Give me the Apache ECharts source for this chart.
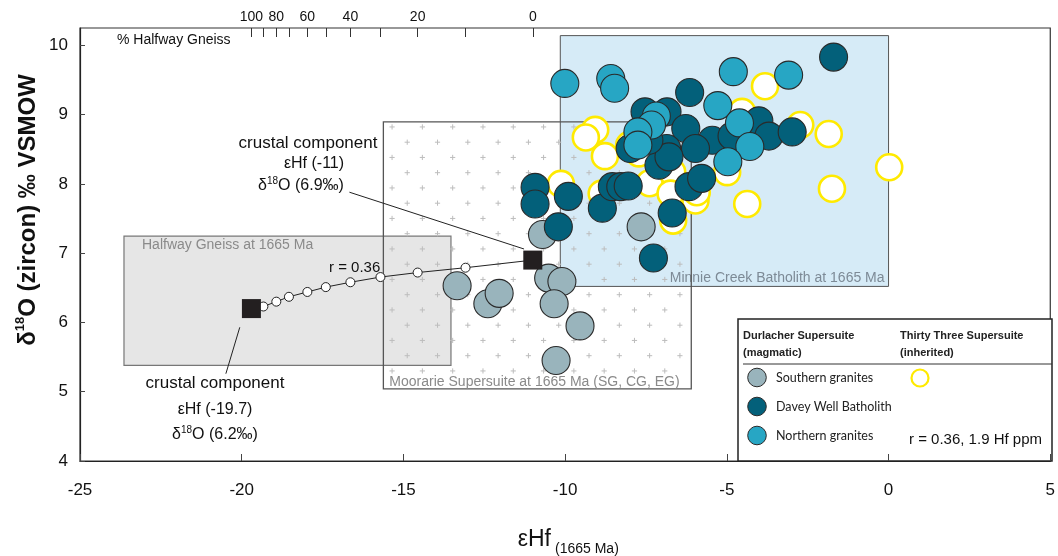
<!DOCTYPE html>
<html>
<head>
<meta charset="utf-8">
<script src="https://cdn.jsdelivr.net/npm/echarts@6/dist/echarts.min.js"></script>
<style>
  html, body { margin: 0; padding: 0; background: #fff; }
  #chart { width: 1058px; height: 556px; }
</style>
</head>
<body>
<div id="chart"></div>
<script>
// ---- zircon δ18O vs εHf(1665 Ma) ----
const southernGranites = [
  [-13.34, 6.53], [-12.39, 6.27], [-12.04, 6.42], [-10.70, 7.27], [-10.51, 6.64],
  [-10.10, 6.59], [-10.34, 6.27], [-9.54, 5.95], [-10.28, 5.45], [-7.65, 7.38]
];
const daveyWell = [
  [-1.70, 9.83], [-6.15, 9.32], [-7.53, 9.04], [-6.85, 9.04], [-6.27, 8.80],
  [-5.45, 8.63], [-4.84, 8.69], [-4.01, 8.91], [-3.70, 8.69], [-2.98, 8.75],
  [-7.99, 8.51], [-6.86, 8.51], [-5.97, 8.51], [-7.10, 8.27], [-6.79, 8.39],
  [-10.93, 7.95], [-10.93, 7.71], [-9.90, 7.82], [-10.21, 7.38], [-8.85, 7.65],
  [-8.54, 7.96], [-8.28, 7.96], [-8.05, 7.97], [-6.17, 7.96], [-5.78, 8.08],
  [-6.69, 7.58], [-7.27, 6.93], [-7.41, 8.63]
];
const northernGranites = [
  [-10.01, 9.45], [-8.59, 9.52], [-8.47, 9.38], [-4.80, 9.62], [-3.09, 9.57],
  [-5.28, 9.13], [-7.18, 8.98], [-7.33, 8.85], [-7.75, 8.75], [-7.75, 8.56],
  [-4.61, 8.88], [-4.29, 8.54], [-4.97, 8.32]
];
const thirtyThreeInherited = [
  [-3.82, 9.41], [-9.07, 8.78], [-9.36, 8.67], [-8.77, 8.40], [-4.53, 9.04],
  [-2.73, 8.85], [-1.85, 8.72], [0.02, 8.24], [-1.75, 7.93], [-4.37, 7.71],
  [-10.13, 8.00], [-8.87, 7.86], [-7.39, 8.01], [-6.69, 8.17], [-6.74, 7.86],
  [-5.97, 7.76], [-6.66, 7.47], [-4.99, 8.17], [-7.72, 8.44], [-8.02, 8.56],
  [-5.93, 7.88]
];

// binary mixing curve between the two crustal components (r = 0.36)
const mixingPct = [100, 90, 80, 70, 60, 50, 40, 30, 20, 10, 0];
const mixingHf = [-19.7, -19.33, -18.93, -18.54, -17.97, -17.40, -16.64, -15.71, -14.56, -13.08, -11.0];
const mixingO = [6.2, 6.23, 6.30, 6.37, 6.44, 6.51, 6.58, 6.655, 6.72, 6.79, 6.9];
const gneissLabelPct = [100, 80, 60, 40, 20, 0];
const endMembers = [[-19.7, 6.2], [-11.0, 6.9]];
const leaderLines = [
  [[-16.67, 7.88], [-11.27, 7.06]],
  [[-20.06, 5.93], [-20.49, 5.26]]
];

// reference fields at 1665 Ma: [εHf min, max], [δ18O min, max]
const boxNames = ['Minnie Creek Batholith at 1665 Ma', 'Halfway Gneiss at 1665 Ma', 'Moorarie Supersuite at 1665 Ma (SG, CG, EG)'];
const boxHf = [[-10.15, 0.0], [-23.64, -13.53], [-15.62, -6.10]];
const boxO = [[6.52, 10.14], [5.38, 7.245], [5.04, 8.894]];

const xTicks = [-25, -20, -15, -10, -5, 0, 5];
const yTicks = [4, 5, 6, 7, 8, 9, 10];

const boxStyles = [
  { fill: '#d6ebf7', stroke: '#555', lw: 1, plus: false, label: 'br', color: '#7d8a96' },
  { fill: '#e6e6e6', stroke: '#777', lw: 1.2, plus: false, label: 'tl', color: '#8a8a8a' },
  { fill: 'rgba(0,0,0,0)', stroke: '#555', lw: 1.3, plus: true, label: 'bl', color: '#8a8a8a' }
];

const SANS = '"Liberation Sans", Arial, sans-serif';
const NARROW = '"Liberation Sans Narrow", "Liberation Sans", Arial, sans-serif';

const chart = echarts.init(document.getElementById('chart'), null, { renderer: 'canvas' });

function pctForHf(v) {
  let best = 0;
  for (let i = 1; i < mixingHf.length; i++) {
    if (Math.abs(mixingHf[i] - v) < Math.abs(mixingHf[best] - v)) best = i;
  }
  return String(mixingPct[best]);
}

function renderBox(params, api) {
  const i = params.dataIndex;
  const st = boxStyles[i];
  const tl = api.coord([boxHf[i][0], boxO[i][1]]);
  const br = api.coord([boxHf[i][1], boxO[i][0]]);
  const w = br[0] - tl[0];
  const h = br[1] - tl[1];
  const children = [{
    type: 'rect',
    shape: { x: tl[0], y: tl[1], width: w, height: h },
    style: { fill: st.fill, stroke: null }
  }];
  if (st.plus) {
    let d = '';
    const dx = 30.3, dy = 15.25, a = 2.6;
    for (let r = 0; 5 + r * dy < h - 3; r++) {
      const y = tl[1] + 5 + r * dy;
      for (let x = tl[0] + 8.7 + (r % 2) * dx / 2; x < br[0] - 3; x += dx) {
        d += 'M' + (x - a) + ' ' + y + 'L' + (x + a) + ' ' + y +
             'M' + x + ' ' + (y - a) + 'L' + x + ' ' + (y + a);
      }
    }
    children.push({ type: 'path', shape: { pathData: d }, style: { fill: null, stroke: '#bdbdbd', lineWidth: 1 } });
  }
  children.push({
    type: 'rect',
    shape: { x: tl[0], y: tl[1], width: w, height: h },
    style: { fill: null, stroke: st.stroke, lineWidth: st.lw }
  });
  let tx, ty, align;
  if (st.label === 'tl') { tx = tl[0] + 18; ty = tl[1] + 9; align = 'left'; }
  else if (st.label === 'bl') { tx = tl[0] + 6; ty = br[1] - 7; align = 'left'; }
  else { tx = br[0] - 4; ty = br[1] - 8; align = 'right'; }
  children.push({
    type: 'text',
    style: { text: boxNames[i], x: tx, y: ty, align: align, verticalAlign: 'middle',
             fill: st.color, font: '14px ' + SANS }
  });
  return { type: 'group', children: children };
}

const dotBase = { type: 'scatter', symbol: 'circle', symbolSize: 28, silent: true };

// hide the curve's own markers where the end-member squares sit
const mixingData = mixingHf.map((x, i) => {
  const item = { value: [x, mixingO[i]] };
  if (i === 0 || i === mixingHf.length - 1) item.symbol = 'none';
  return item;
});

const option = {
  animation: false,
  backgroundColor: '#fff',
  grid: { left: 80, right: 6, top: 28, bottom: 95, show: true, borderColor: '#333', borderWidth: 1.2, backgroundColor: 'transparent' },
  xAxis: [{
    type: 'value', min: -25, max: 5, interval: 5, position: 'bottom',
    axisLine: { show: true, onZero: false, lineStyle: { color: '#222', width: 1.2 } },
    axisTick: { show: true, inside: true, length: 7, customValues: xTicks, lineStyle: { color: '#444' } },
    axisLabel: { customValues: xTicks, margin: 21, fontSize: 17, color: '#111', fontFamily: NARROW },
    splitLine: { show: false }
  }, {
    type: 'value', min: -25, max: 5, position: 'top',
    axisLine: { show: false },
    axisTick: { show: true, inside: true, length: 9, customValues: mixingHf, lineStyle: { color: '#333' } },
    axisLabel: {
      customValues: gneissLabelPct.map(p => mixingHf[mixingPct.indexOf(p)]),
      formatter: v => pctForHf(v), margin: 4, fontSize: 14, color: '#111', fontFamily: SANS
    },
    splitLine: { show: false }
  }],
  yAxis: {
    type: 'value', min: 4, max: 10.25, interval: 1,
    axisLine: { show: true, onZero: false, lineStyle: { color: '#222', width: 1.2 } },
    axisTick: { show: true, inside: true, length: 5, customValues: yTicks, lineStyle: { color: '#444' } },
    axisLabel: { customValues: yTicks, margin: 12, fontSize: 17, color: '#111', fontFamily: SANS },
    splitLine: { show: false }
  },
  series: [
    {
      type: 'custom', name: 'fields', coordinateSystem: 'cartesian2d', renderItem: renderBox,
      data: boxNames.map((n, i) => [boxHf[i][0], boxO[i][0], i]), z: 1, silent: true, clip: false
    },
    Object.assign({}, dotBase, {
      name: 'Thirty Three Supersuite (inherited)', data: thirtyThreeInherited, z: 3, symbolSize: 26,
      itemStyle: { color: '#fff', borderColor: '#ffea00', borderWidth: 2.6, opacity: 1 }
    }),
    Object.assign({}, dotBase, {
      name: 'Southern granites', data: southernGranites, z: 4,
      itemStyle: { color: '#99b4bc', borderColor: '#2a2a2a', borderWidth: 1.1, opacity: 1 }
    }),
    Object.assign({}, dotBase, {
      name: 'Davey Well Batholith', data: daveyWell, z: 5,
      itemStyle: { color: '#03607a', borderColor: '#2a2a2a', borderWidth: 1.1, opacity: 1 }
    }),
    Object.assign({}, dotBase, {
      name: 'Northern granites', data: northernGranites, z: 6,
      itemStyle: { color: '#27a6c4', borderColor: '#2a2a2a', borderWidth: 1.1, opacity: 1 }
    }),
    {
      type: 'line', name: 'mixing', data: mixingData, z: 7, silent: true,
      symbol: 'circle', symbolSize: 9, showAllSymbol: true,
      lineStyle: { color: '#222', width: 1 },
      itemStyle: { color: '#fff', borderColor: '#222', borderWidth: 1, opacity: 1 }
    },
    {
      type: 'scatter', name: 'crustal component', data: endMembers, z: 8, silent: true,
      symbol: 'rect', symbolSize: 19, itemStyle: { color: '#231f20', opacity: 1 },
      markLine: {
        silent: true, symbol: ['none', 'none'], label: { show: false },
        lineStyle: { color: '#222', width: 1, type: 'solid' },
        data: leaderLines.map(l => [{ coord: l[0] }, { coord: l[1] }])
      }
    }
  ],
  graphic: [
    // axis titles
    {
      type: 'text', x: 28, y: 210, rotation: Math.PI / 2, z: 10,
      style: {
        text: '{b|δ}{s|18}{b|O (zircon) ‰ VSMOW}', align: 'center', verticalAlign: 'middle',
        rich: {
          b: { font: 'bold 24px ' + SANS, fill: '#111', lineHeight: 28 },
          s: { font: 'bold 13px ' + SANS, fill: '#111', lineHeight: 13, verticalAlign: 'top' }
        }
      }
    },
    { type: 'text', x: 551, y: 540, z: 10,
      style: { text: 'εHf', align: 'right', verticalAlign: 'middle', font: '23px ' + NARROW, fill: '#111' } },
    { type: 'text', x: 555, y: 549, z: 10,
      style: { text: '(1665 Ma)', align: 'left', verticalAlign: 'middle', font: '14px ' + NARROW, fill: '#111' } },
    { type: 'text', x: 117, y: 40, z: 10,
      style: { text: '% Halfway Gneiss', align: 'left', verticalAlign: 'middle', font: '14px ' + SANS, fill: '#111' } },
    { type: 'text', x: 329, y: 268, z: 10,
      style: { text: 'r = 0.36', align: 'left', verticalAlign: 'middle', font: '15px ' + SANS, fill: '#111' } },
    // end-member annotations
    { type: 'text', x: 308, y: 143, z: 10,
      style: { text: 'crustal component', align: 'center', verticalAlign: 'middle', font: '17px ' + SANS, fill: '#111' } },
    { type: 'text', x: 314, y: 164, z: 10,
      style: { text: 'εHf (-11)', align: 'center', verticalAlign: 'middle', font: '16px ' + SANS, fill: '#111' } },
    { type: 'text', x: 301, y: 186, z: 10,
      style: {
        text: '{t|δ}{s|18}{t|O (6.9‰)}', align: 'center', verticalAlign: 'middle',
        rich: { t: { font: '16px ' + SANS, fill: '#111', lineHeight: 20 }, s: { font: '10px ' + SANS, fill: '#111', lineHeight: 10, verticalAlign: 'top' } }
      } },
    { type: 'text', x: 215, y: 383, z: 10,
      style: { text: 'crustal component', align: 'center', verticalAlign: 'middle', font: '17px ' + SANS, fill: '#111' } },
    { type: 'text', x: 215, y: 410, z: 10,
      style: { text: 'εHf (-19.7)', align: 'center', verticalAlign: 'middle', font: '16px ' + SANS, fill: '#111' } },
    { type: 'text', x: 215, y: 435, z: 10,
      style: {
        text: '{t|δ}{s|18}{t|O (6.2‰)}', align: 'center', verticalAlign: 'middle',
        rich: { t: { font: '16px ' + SANS, fill: '#111', lineHeight: 20 }, s: { font: '10px ' + SANS, fill: '#111', lineHeight: 10, verticalAlign: 'top' } }
      } },
    // legend panel
    {
      type: 'group', z: 20, children: [
        { type: 'rect', shape: { x: 738, y: 319, width: 314, height: 142 }, style: { fill: '#fff', stroke: '#222', lineWidth: 1.5 } },
        { type: 'text', style: { text: 'Durlacher Supersuite', x: 743, y: 336, verticalAlign: 'middle', font: 'bold 11px ' + SANS, fill: '#222' } },
        { type: 'text', style: { text: '(magmatic)', x: 743, y: 352.5, verticalAlign: 'middle', font: 'bold 11px ' + SANS, fill: '#222' } },
        { type: 'text', style: { text: 'Thirty Three Supersuite', x: 900, y: 336, verticalAlign: 'middle', font: 'bold 11px ' + SANS, fill: '#222' } },
        { type: 'text', style: { text: '(inherited)', x: 900, y: 352.5, verticalAlign: 'middle', font: 'bold 11px ' + SANS, fill: '#222' } },
        { type: 'line', shape: { x1: 743, y1: 364, x2: 1052, y2: 364 }, style: { stroke: '#333', lineWidth: 1 } },
        { type: 'circle', shape: { cx: 757, cy: 377.5, r: 9.3 }, style: { fill: '#99b4bc', stroke: '#2a2a2a', lineWidth: 1 } },
        { type: 'circle', shape: { cx: 757, cy: 406.5, r: 9.3 }, style: { fill: '#03607a', stroke: '#2a2a2a', lineWidth: 1 } },
        { type: 'circle', shape: { cx: 757, cy: 435.5, r: 9.3 }, style: { fill: '#27a6c4', stroke: '#2a2a2a', lineWidth: 1 } },
        { type: 'text', style: { text: 'Southern granites', x: 776, y: 377.5, verticalAlign: 'middle', font: '12.5px Lato, "Open Sans", sans-serif', fill: '#222' } },
        { type: 'text', style: { text: 'Davey Well Batholith', x: 776, y: 406.5, verticalAlign: 'middle', font: '12.5px Lato, "Open Sans", sans-serif', fill: '#222' } },
        { type: 'text', style: { text: 'Northern granites', x: 776, y: 435.5, verticalAlign: 'middle', font: '12.5px Lato, "Open Sans", sans-serif', fill: '#222' } },
        { type: 'circle', shape: { cx: 920, cy: 378, r: 8.5 }, style: { fill: '#fff', stroke: '#ffea00', lineWidth: 2.2 } },
        { type: 'text', style: { text: 'r = 0.36, 1.9 Hf ppm', x: 909, y: 440, verticalAlign: 'middle', font: '15px ' + SANS, fill: '#111' } }
      ]
    }
  ]
};

chart.setOption(option);
</script>
</body>
</html>
